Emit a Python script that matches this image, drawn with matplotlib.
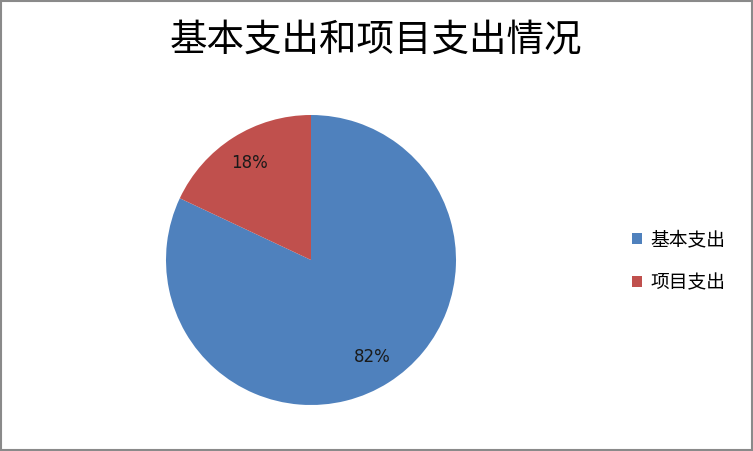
import matplotlib
matplotlib.use("Agg")
import matplotlib.pyplot as plt
from matplotlib.patches import Rectangle, Patch

plt.rcParams['font.family'] = ['Noto Sans CJK SC', 'DejaVu Sans']

# ----------------- Data -----------------
title = "基本支出和项目支出情况"
categories = ["基本支出", "项目支出"]
shares = [82, 18]
colors = ["#4F81BD", "#C0504D"]

# ----------------- Figure -----------------
W, H = 753, 451
fig = plt.figure(figsize=(W / 100, H / 100), dpi=100)
fig.patch.set_facecolor("white")

# pie centre (311, 260) px from top-left, radius 145 px
cx, cy, r = 311, 260, 145
ax = fig.add_axes([(cx - r) / W, (H - cy - r) / H, 2 * r / W, 2 * r / H])
wedges, texts, autotexts = ax.pie(
    shares, colors=colors, startangle=90, counterclock=False,
    autopct="%d%%", pctdistance=0.79, radius=1.0,
    wedgeprops=dict(linewidth=0),
    textprops=dict(fontsize=12, color="#1a1a1a", family=["DejaVu Sans"]),
)
ax.set_xlim(-1, 1)
ax.set_ylim(-1, 1)
ax.set_aspect("equal")
ax.axis("off")

fig.text(376 / W, 1 - 41 / H, title, ha="center", va="center",
         fontsize=27, color="black")

handles = [Patch(facecolor=c, edgecolor="none") for c in colors]
fig.legend(handles, categories, loc="center left",
           bbox_to_anchor=(632 / W, 1 - 261 / H), frameon=False,
           fontsize=13.5, handlelength=0.55, handleheight=0.55,
           handletextpad=0.45, labelspacing=1.15,
           borderpad=0, borderaxespad=0)

# outer border
fig.add_artist(Rectangle((0.5 / W, 0.8 / H), 1 - 2 / W, 1 - 2 / H,
                         transform=fig.transFigure, fill=False,
                         edgecolor="#8a8a8a", linewidth=1.5))

fig.savefig("out.png", dpi=100)
